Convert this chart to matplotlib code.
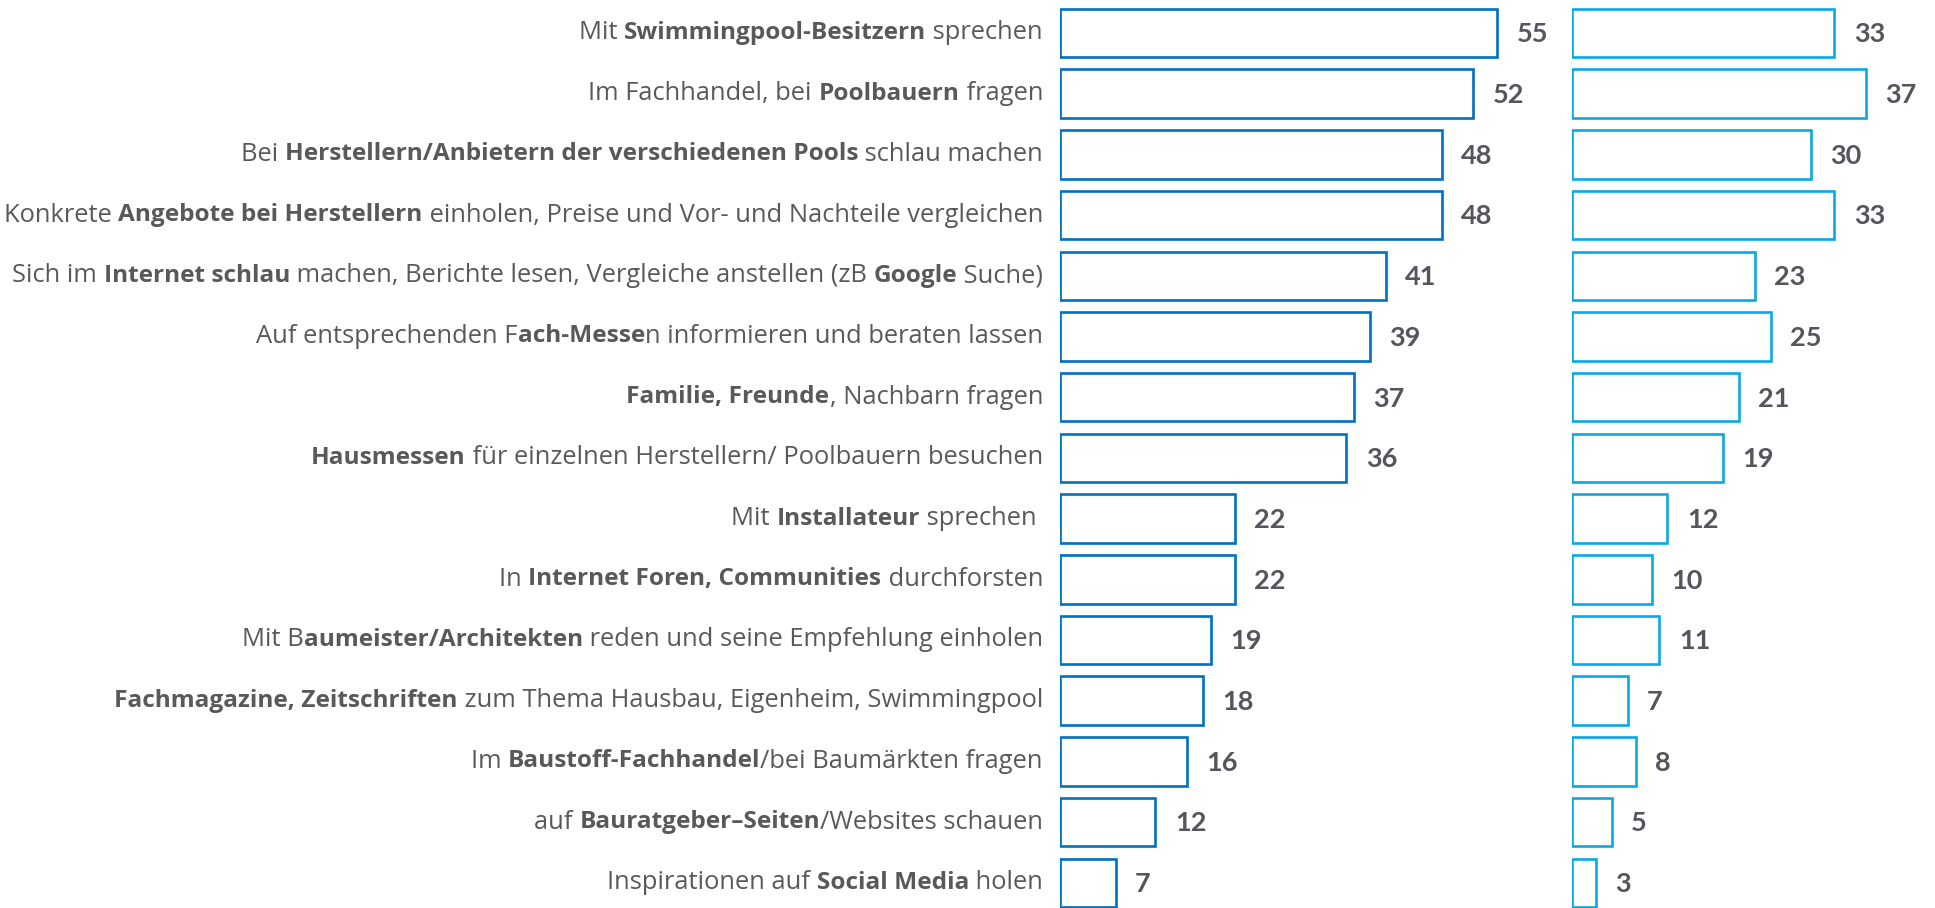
import matplotlib
matplotlib.use("Agg")
import matplotlib.pyplot as plt
from matplotlib import transforms
from matplotlib.font_manager import FontProperties

# labels use **...** for the bold parts
labels = [
    "Mit **Swimmingpool-Besitzern** sprechen",
    "Im Fachhandel, bei **Poolbauern** fragen",
    "Bei **Herstellern/Anbietern der verschiedenen Pools** schlau machen",
    "Konkrete **Angebote bei Herstellern** einholen, Preise und Vor- und Nachteile vergleichen",
    "Sich im **Internet schlau** machen, Berichte lesen, Vergleiche anstellen (zB **Google** Suche)",
    "Auf entsprechenden F**ach-Messe**n informieren und beraten lassen",
    "**Familie, Freunde**, Nachbarn fragen",
    "**Hausmessen** für einzelnen Herstellern/ Poolbauern besuchen",
    "Mit **Installateur** sprechen ",
    "In **Internet Foren, Communities** durchforsten",
    "Mit B**aumeister/Architekten** reden und seine Empfehlung einholen",
    "**Fachmagazine, Zeitschriften** zum Thema Hausbau, Eigenheim, Swimmingpool",
    "Im **Baustoff-Fachhandel**/bei Baumärkten fragen",
    "auf **Bauratgeber–Seiten**/Websites schauen",
    "Inspirationen auf **Social Media** holen",
]
values_left = [55, 52, 48, 48, 41, 39, 37, 36, 22, 22, 19, 18, 16, 12, 7]
values_right = [33, 37, 30, 33, 23, 25, 21, 19, 12, 10, 11, 7, 8, 5, 3]

W, H = 1935, 908
LEFT_COLOR = "#0070C0"
RIGHT_COLOR = "#0AA8E6"
TEXT_COLOR = "#595959"
VALUE_COLOR = "#55555E"
LABEL_FONT = "Open Sans"
VALUE_FONT = "Lato"

fig = plt.figure(figsize=(W / 100, H / 100), dpi=100)
fig.patch.set_facecolor("white")

px = 7.95      # pixels per percent
step = 60.7    # pixels per row
first = 33     # centre of first row, pixels from top
y_top = -first / step
y_bot = (H - first) / step

ax1 = fig.add_axes([1060 / W, 0, 500 / W, 1])
ax2 = fig.add_axes([1572 / W, 0, (W - 1572) / W, 1])
ax1.set_xlim(0, 500 / px)
ax2.set_xlim(0, (W - 1572) / px)

rows = list(range(len(labels)))
for ax, vals, col in [(ax1, values_left, LEFT_COLOR), (ax2, values_right, RIGHT_COLOR)]:
    ax.barh(rows, vals, height=0.8, facecolor="white", edgecolor=col, linewidth=1.9)
    ax.set_ylim(y_bot, y_top)
    ax.axis("off")
    for i, v in enumerate(vals):
        ax.annotate(str(v), (v, i), xytext=(14, -1), textcoords="offset points",
                    ha="left", va="center", fontsize=19.5, fontweight="bold",
                    color=VALUE_COLOR, family=VALUE_FONT)

# category labels with mixed bold / normal parts, right aligned
fig.canvas.draw()
renderer = fig.canvas.get_renderer()
fp_norm = FontProperties(family=LABEL_FONT, size=18.4)
fp_bold = FontProperties(family=LABEL_FONT, size=17.6, weight="bold")


def seg_width(s, fp):
    w1, _, _ = renderer.get_text_width_height_descent(s + "|", fp, ismath=False)
    w2, _, _ = renderer.get_text_width_height_descent("|", fp, ismath=False)
    return w1 - w2


trans = transforms.blended_transform_factory(transforms.IdentityTransform(), ax1.transData)
x_right = 1043
for i, lab in enumerate(labels):
    parts = lab.split("**")
    segs = [(p, k % 2 == 1) for k, p in enumerate(parts) if p]
    x = x_right
    for s, bold in reversed(segs):
        fp = fp_bold if bold else fp_norm
        x -= seg_width(s, fp)
        ax1.text(x, i, s, transform=trans, ha="left", va="center",
                 fontproperties=fp, color=TEXT_COLOR, clip_on=False)

fig.savefig("out.png", dpi=100, facecolor="white")
